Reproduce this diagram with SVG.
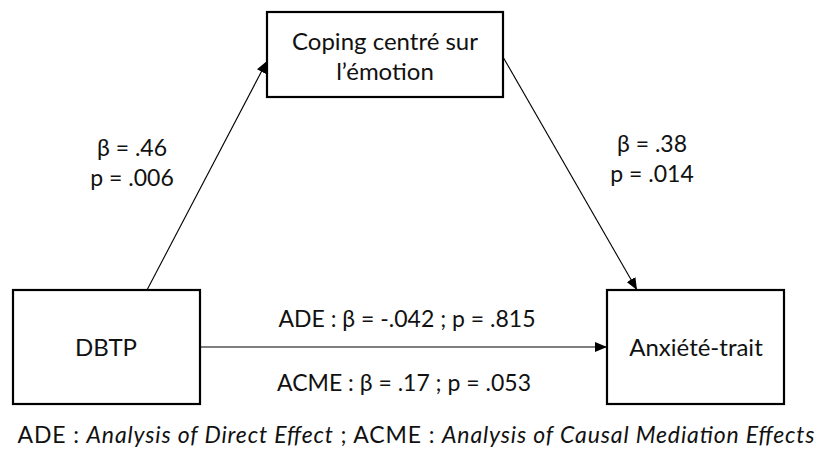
<svg xmlns="http://www.w3.org/2000/svg" width="820" height="459" viewBox="0 0 820 459">
<defs>
<marker id="arr" viewBox="0 0 12 10" refX="12" refY="5" markerWidth="12" markerHeight="10" markerUnits="userSpaceOnUse" orient="auto">
<path d="M0,0 L12,5 L0,10 Z" fill="#000"/>
</marker>
</defs>
<style>
text{font-family:Lato,"Open Sans","Liberation Sans",sans-serif;fill:#111;text-anchor:middle}
.node rect{fill:#fff;stroke:#000;stroke-width:2.2}
.node text{font-size:24px}
.lbl{font-size:23px}
.edge{stroke:#000;stroke-width:1.1;fill:none;marker-end:url(#arr)}
</style>
<rect width="820" height="459" fill="#fff"/>
<g id="connectors">
<line class="edge" x1="147" y1="290" x2="267" y2="61"/>
<line class="edge" x1="503" y1="57" x2="637" y2="290"/>
<line class="edge" x1="201" y1="347" x2="607" y2="347"/>
</g>
<g id="coping" class="node">
<rect x="267" y="12" width="236" height="85"/>
<text x="385" y="50">Coping centré sur</text>
<text x="385" y="80">l’émotion</text>
</g>
<g id="dbtp" class="node">
<rect x="13" y="290" width="187" height="114"/>
<text x="106" y="356">DBTP</text>
</g>
<g id="anxiete" class="node">
<rect x="607" y="290" width="177" height="114"/>
<text x="696" y="356">Anxiété-trait</text>
</g>
<g id="labels">
<text class="lbl" x="132" y="156">β = .46</text>
<text class="lbl" x="132" y="186">p = .006</text>
<text class="lbl" x="652" y="152">β = .38</text>
<text class="lbl" x="652" y="182">p = .014</text>
<text class="lbl" x="407" y="327">ADE : β = -.042 ; p = .815</text>
<text class="lbl" x="404" y="391">ACME : β = .17 ; p = .053</text>
<text class="lbl" x="416" y="443" textLength="797" lengthAdjust="spacing">ADE : <tspan font-style="italic">Analysis of Direct Effect</tspan> ; ACME : <tspan font-style="italic">Analysis of Causal Mediation Effects</tspan></text>
</g>
</svg>
